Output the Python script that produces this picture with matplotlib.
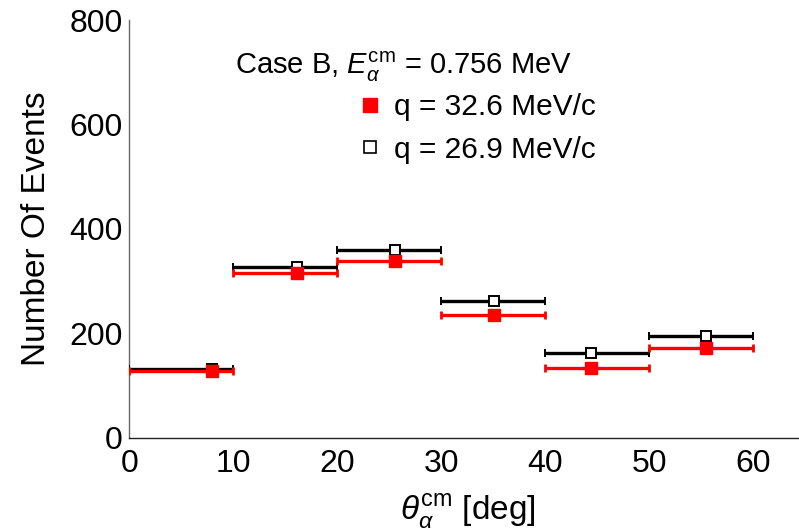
'''
    Angular distribution of events for two momentum transfers
'''
import numpy as np
import matplotlib
matplotlib.use('Agg')
import matplotlib.pyplot as plt
from matplotlib.lines import Line2D

plt.rcParams['font.family'] = ['Liberation Sans', 'DejaVu Sans']
plt.rcParams['mathtext.fontset'] = 'custom'
plt.rcParams['mathtext.rm'] = 'Liberation Sans'
plt.rcParams['mathtext.it'] = 'Liberation Sans:italic'

# angular bins (deg)
bin_lo = np.array([0, 10, 20, 30, 40, 50])
bin_hi = np.array([10, 20, 30, 40, 50, 60])
# mean angle of the events in each bin
theta_mean = np.array([7.9, 16.1, 25.5, 35.1, 44.4, 55.4])

# counts per bin
events_q326 = np.array([127, 315, 338, 235, 133, 172])
events_q269 = np.array([132, 326, 359, 261, 162, 195])

x_ticks = [0, 10, 20, 30, 40, 50, 60]
y_ticks = [0, 200, 400, 600, 800]

fig = plt.figure(figsize=(7.99, 5.30), dpi=100)
ax = fig.add_axes([0.162, 0.1745, 0.846, 0.7877])

xerr = [theta_mean - bin_lo, bin_hi - theta_mean]

ax.errorbar(theta_mean, events_q269, xerr=xerr, fmt='s', color='black',
            mfc='white', mec='black', ms=7, mew=1.4,
            elinewidth=2.4, capsize=2.6, capthick=2, zorder=3)
ax.errorbar(theta_mean, events_q326, xerr=xerr, fmt='s', color='red',
            mfc='red', mec='red', ms=8.7,
            elinewidth=2.4, capsize=2.6, capthick=2, zorder=4)

ax.set_xlim(0, 65)
ax.set_ylim(0, 800)
ax.set_xticks(x_ticks)
ax.set_yticks(y_ticks)
ax.tick_params(length=0, labelsize=23)
ax.tick_params(axis='x', pad=8)
ax.tick_params(axis='y', pad=5)

for side in ['top', 'right']:
    ax.spines[side].set_visible(False)
ax.spines['left'].set_color('#666666')
ax.spines['bottom'].set_color('#222222')
ax.spines['left'].set_linewidth(1.0)
ax.spines['bottom'].set_linewidth(1.0)

ax.set_ylabel('Number Of Events', fontsize=24, labelpad=12)
ax.set_xlabel(r'$\theta_{\alpha}^{\rm cm}$ [deg]', fontsize=24)
ax.xaxis.set_label_coords(0.5, -0.13)

ax.text(235, 530 - 74, r'Case B, $E_{\alpha}^{\rm cm}$ = 0.756 MeV', fontsize=21,
        transform=None, ha='left', va='baseline')

handles = [Line2D([], [], marker='s', ls='none', color='red', ms=9.5),
           Line2D([], [], marker='s', ls='none', mfc='white', mec='black', ms=8, mew=1.2)]
ax.legend(handles, ['q = 32.6 MeV/c', 'q = 26.9 MeV/c'], loc='upper left',
          bbox_to_anchor=(360 / 799, 1 - 93 / 530), bbox_transform=fig.transFigure,
          frameon=False, fontsize=21.5, handlelength=0.7, handletextpad=0.45,
          labelspacing=0.5, borderpad=0, borderaxespad=0)

fig.savefig('out.png', dpi=100)
